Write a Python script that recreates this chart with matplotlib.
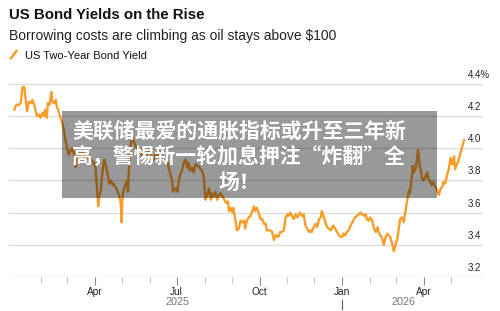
import matplotlib
matplotlib.use("Agg")
import matplotlib.pyplot as plt
import matplotlib.dates as mdates
from matplotlib.patches import Rectangle
import pandas as pd

# US two-year yield: days after 2025-01-01 and yield (%)
day = [1, 3, 6, 8, 10, 12, 13, 15, 17, 20, 21, 23, 26, 28, 30, 32, 34, 35, 37, 38,
       40, 42, 43, 45, 47, 48, 50, 52, 54, 56, 58, 60, 61, 63, 65, 67, 69, 71, 72, 74,
       76, 78, 80, 82, 84, 85, 89, 91, 93, 94, 95, 97, 98, 100, 101, 103, 105, 106, 108, 110,
       111, 113, 115, 117, 119, 120, 121, 122, 124, 126, 127, 128, 129, 131, 132, 133, 135, 138, 140, 142,
       144, 146, 149, 151, 153, 155, 158, 160, 162, 164, 166, 169, 171, 172, 174, 176, 177, 180, 182, 183,
       185, 187, 189, 191, 193, 194, 196, 198, 200, 202, 205, 209, 211, 213, 215, 217, 219, 220, 222, 224,
       226, 228, 230, 232, 234, 236, 238, 239, 241, 243, 244, 246, 248, 250, 252, 254, 256, 257, 259, 261,
       263, 265, 267, 268, 270, 272, 274, 276, 278, 280, 281, 283, 285, 287, 289, 291, 293, 294, 296, 298,
       300, 302, 304, 305, 307, 309, 311, 313, 315, 317, 318, 320, 322, 324, 326, 328, 330, 331, 333, 335,
       337, 339, 341, 342, 344, 346, 348, 350, 352, 354, 355, 357, 359, 361, 363, 365, 366, 368, 370, 372,
       374, 376, 378, 379, 381, 383, 385, 387, 389, 391, 392, 394, 396, 398, 400, 402, 404, 405, 407, 409,
       411, 413, 415, 416, 418, 420, 422, 424, 426, 427, 429, 431, 433, 435, 437, 439, 440, 442, 443, 444,
       446, 447, 449, 451, 452, 453, 455, 457, 459, 461, 463, 464, 466, 468, 470, 472, 474, 476, 477, 479,
       481, 483, 485, 487, 489, 490, 492, 494, 496, 498, 500]
yield_pct = [4.24, 4.27, 4.27, 4.28, 4.38, 4.38, 4.33, 4.23, 4.29, 4.28, 4.30, 4.27, 4.20, 4.21, 4.19, 4.22, 4.20, 4.24, 4.19, 4.28,
             4.27, 4.35, 4.29, 4.28, 4.30, 4.26, 4.23, 4.19, 4.16, 4.11, 4.04, 3.99, 3.96, 3.98, 4.00, 3.97, 3.88, 3.94, 3.98, 3.95,
             3.98, 3.96, 3.93, 3.94, 3.96, 3.94, 3.91, 3.88, 3.72, 3.64, 3.70, 3.74, 3.82, 3.91, 3.93, 3.88, 3.82, 3.78, 3.80, 3.77,
             3.78, 3.76, 3.74, 3.71, 3.66, 3.54, 3.70, 3.74, 3.77, 3.80, 3.73, 3.86, 3.99, 4.05, 4.07, 4.05, 4.02, 3.99, 4.00, 3.96,
             3.98, 3.94, 3.98, 3.99, 3.96, 3.93, 3.96, 3.94, 3.98, 3.95, 3.93, 3.91, 3.91, 3.88, 3.84, 3.80, 3.73, 3.75, 3.73, 3.78,
             3.84, 3.86, 3.91, 3.93, 3.88, 3.91, 3.86, 3.88, 3.85, 3.90, 3.89, 3.86, 3.83, 3.68, 3.71, 3.75, 3.68, 3.72, 3.70, 3.73,
             3.68, 3.71, 3.72, 3.70, 3.68, 3.66, 3.67, 3.61, 3.63, 3.60, 3.63, 3.56, 3.49, 3.50, 3.55, 3.54, 3.55, 3.50, 3.55, 3.57,
             3.58, 3.61, 3.64, 3.61, 3.63, 3.60, 3.56, 3.56, 3.53, 3.53, 3.49, 3.49, 3.49, 3.48, 3.43, 3.46, 3.45, 3.45, 3.48, 3.48,
             3.49, 3.57, 3.59, 3.58, 3.60, 3.58, 3.56, 3.59, 3.57, 3.59, 3.60, 3.58, 3.59, 3.52, 3.50, 3.48, 3.49, 3.48, 3.51, 3.53,
             3.51, 3.56, 3.57, 3.61, 3.58, 3.54, 3.51, 3.50, 3.49, 3.51, 3.52, 3.50, 3.48, 3.46, 3.45, 3.45, 3.47, 3.46, 3.48, 3.49,
             3.52, 3.54, 3.56, 3.57, 3.58, 3.59, 3.60, 3.59, 3.58, 3.59, 3.56, 3.55, 3.57, 3.55, 3.50, 3.48, 3.51, 3.48, 3.46, 3.44,
             3.40, 3.45, 3.47, 3.46, 3.45, 3.41, 3.36, 3.40, 3.44, 3.48, 3.56, 3.57, 3.54, 3.61, 3.68, 3.74, 3.72, 3.82, 3.89, 3.85,
             3.87, 3.90, 3.99, 3.88, 3.87, 3.82, 3.80, 3.82, 3.85, 3.80, 3.79, 3.77, 3.79, 3.76, 3.74, 3.71, 3.75, 3.76, 3.79, 3.78,
             3.83, 3.87, 3.94, 3.90, 3.95, 3.87, 3.90, 3.93, 3.97, 4.01, 4.05]

y_ticks = [3.2, 3.4, 3.6, 3.8, 4.0, 4.2, 4.4]
y_tick_labels = ["3.2", "3.4", "3.6", "3.8", "4.0", "4.2", "4.4%"]
quarter_ticks = ["2025-04-01", "2025-07-01", "2025-10-01", "2026-01-01", "2026-04-01"]

title = "US Bond Yields on the Rise"
subtitle = "Borrowing costs are climbing as oil stays above $100"
series_name = "US Two-Year Bond Yield"
overlay_text = "美联储最爱的通胀指标或升至三年新\n高，警惕新一轮加息押注“炸翻”全\n场！"

ORANGE = "#F99D2A"
GRID = "#DDDDDD"

dates = pd.Timestamp("2025-01-01") + pd.to_timedelta(day, unit="D")
s = pd.Series(yield_pct, index=dates)

plt.rcParams["font.family"] = ["Liberation Sans", "DejaVu Sans"]

fig = plt.figure(figsize=(5.0, 3.11), dpi=100)
ax = fig.add_axes([0.018, 0.1093, 0.948, 0.652])

for v, lab in zip(y_ticks, y_tick_labels):
    ax.axhline(v, color=GRID if v > 3.2 else "#CCCCCC", lw=1.0, zorder=1)
    ax.text(0.968, v + 0.056, lab, transform=ax.get_yaxis_transform(),
            ha="left", va="center", fontsize=7, color="#222222")

ax.plot(s.index, s.values, color=ORANGE, lw=1.7, zorder=3, solid_joinstyle="round")

ax.set_xlim(pd.Timestamp("2024-12-27"), pd.Timestamp("2026-06-06"))
ax.set_ylim(3.2, 4.46)
ax.set_yticks([])
for sp in ax.spines.values():
    sp.set_visible(False)

ax.set_xticks(pd.to_datetime(quarter_ticks))
ax.xaxis.set_major_formatter(mdates.DateFormatter("%b"))
ax.set_xticks(pd.date_range("2025-02-01", "2026-05-01", freq="MS"), minor=True)
ax.tick_params(axis="x", which="major", length=6, width=0.8, color="#888888",
               labelsize=7.3, labelcolor="#222222", pad=1)
ax.tick_params(axis="x", which="minor", length=4, width=0.8, color="#C8C8C8")

# year labels centred under each year's stretch of data
for yr in [2025, 2026]:
    part = s[s.index.year == yr]
    mid = part.index[0] + (part.index[-1] - part.index[0]) / 2
    ax.text(mid, -0.125, str(yr), transform=ax.get_xaxis_transform(), ha="center", va="center",
            fontsize=7.8, color="#777777")
ax.plot([pd.Timestamp("2026-01-01")] * 2, [-0.115, -0.16], transform=ax.get_xaxis_transform(),
        color="#555555", lw=0.8, clip_on=False)

fig.text(0.018, 0.939, title, fontsize=10.8, fontweight="bold", color="#111111", va="baseline")
fig.text(0.018, 0.871, subtitle, fontsize=10, color="#222222", va="baseline")
fig.text(0.05, 0.810, series_name, fontsize=8, color="#111111", va="baseline")
fig.add_artist(plt.Line2D([0.022, 0.033], [0.813, 0.836], color=ORANGE, lw=1.8))

# grey overlay with headline text
fig.patches.append(Rectangle((0.124, 0.3633), 0.75, 0.2797, transform=fig.transFigure,
                             facecolor="black", alpha=0.4, edgecolor="none", zorder=5))
fig.text(0.478, 0.496, overlay_text, ha="center", va="center", multialignment="center",
         fontsize=15, fontweight="bold", color="white", linespacing=1.28,
         family=["Noto Sans CJK SC", "DejaVu Sans"], zorder=6)

fig.savefig("out.png", dpi=100)
